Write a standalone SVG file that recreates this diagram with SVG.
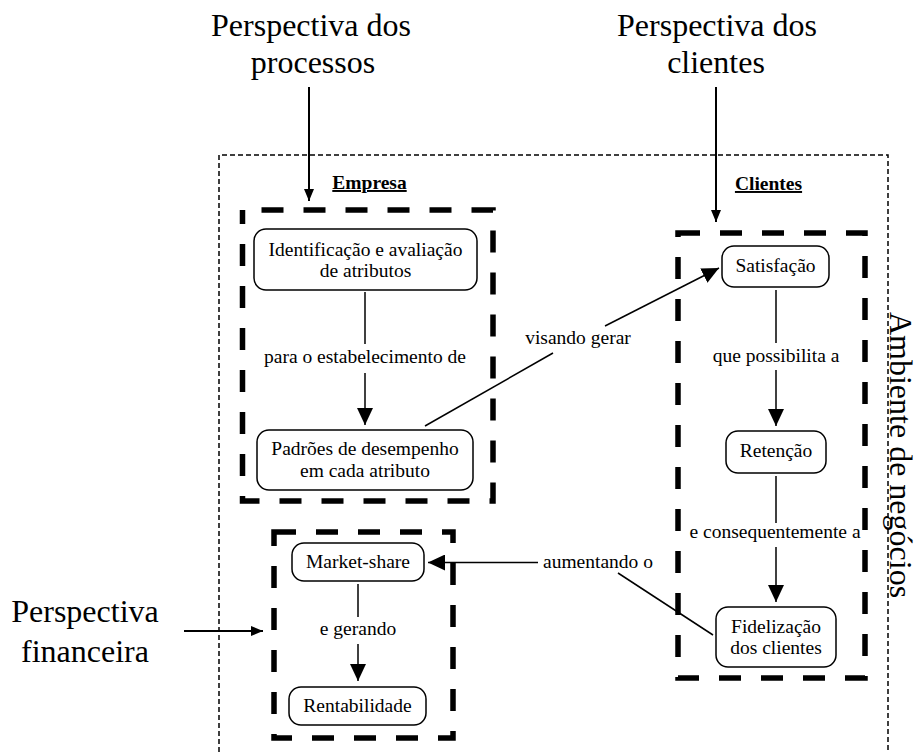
<svg xmlns="http://www.w3.org/2000/svg" width="918" height="752" viewBox="0 0 918 752">
  <defs>
    <marker id="arrow" markerUnits="userSpaceOnUse" markerWidth="18" markerHeight="16" refX="17" refY="8" orient="auto">
      <path d="M0,0 L17,8 L0,16 Z" fill="#000"/>
    </marker>
    <marker id="arrow-small" markerUnits="userSpaceOnUse" markerWidth="13" markerHeight="10" refX="12" refY="5" orient="auto">
      <path d="M0,0 L12,5 L0,10 Z" fill="#000"/>
    </marker>
    <style>
      text { font-family: "Liberation Serif", "Times New Roman", serif; fill: #000; }
      .big { font-size: 32px; text-anchor: middle; }
      .node-text { font-size: 19.5px; text-anchor: middle; }
      .edge-label { font-size: 19.5px; text-anchor: middle; }
      .title { font-size: 19.5px; font-weight: bold; text-anchor: middle; text-decoration: underline; }
      .node { fill: #fff; stroke: #000; stroke-width: 1.5; }
      .frame { fill: none; stroke: #000; stroke-width: 5.5; stroke-dasharray: 22 20; }
      .env { fill: none; stroke: #000; stroke-width: 1.5; stroke-dasharray: 5 3; }
      .edge { fill: none; stroke: #000; stroke-width: 1.5; }
      .persp { fill: none; stroke: #000; stroke-width: 2; }
    </style>
  </defs>

  <rect width="918" height="752" fill="#fff"/>

  <!-- business environment boundary -->
  <g id="ambiente">
    <path class="env" d="M219,760 V155 H888 V760"/>
    <text class="big" transform="translate(890,455) rotate(90)">Ambiente de negócios</text>
  </g>

  <!-- perspective labels -->
  <g id="persp-processos">
    <text class="big" x="311" y="36">Perspectiva dos</text>
    <text class="big" x="313" y="73">processos</text>
  </g>
  <g id="persp-clientes">
    <text class="big" x="717" y="36">Perspectiva dos</text>
    <text class="big" x="716" y="73">clientes</text>
  </g>
  <g id="persp-financeira">
    <text class="big" x="85" y="622">Perspectiva</text>
    <text class="big" x="85" y="662">financeira</text>
  </g>

  <!-- section frames -->
  <g id="empresa">
    <rect class="frame" x="242.5" y="210" width="250.5" height="291" stroke-dashoffset="23"/>
    <text class="title" x="369.5" y="189">Empresa</text>
  </g>
  <g id="clientes">
    <rect class="frame" x="678" y="233" width="187" height="445"/>
    <text class="title" x="768.5" y="190">Clientes</text>
  </g>
  <g id="financeiro">
    <rect class="frame" x="274" y="532" width="179" height="206"/>
  </g>

  <!-- connectors -->
  <g id="connectors">
    <line class="persp" x1="309" y1="87" x2="309" y2="201" marker-end="url(#arrow-small)"/>
    <line class="persp" x1="716" y1="87" x2="716" y2="222" marker-end="url(#arrow-small)"/>
    <line class="persp" x1="184" y1="631" x2="263" y2="631" marker-end="url(#arrow-small)"/>

    <path class="edge" d="M365,292 V344"/>
    <path class="edge" d="M365,373 V425" marker-end="url(#arrow)"/>
    <text class="edge-label" x="365" y="363">para o estabelecimento de</text>

    <path class="edge" d="M425,426 L553,353"/>
    <path class="edge" d="M605,326 L719,268" marker-end="url(#arrow)"/>
    <text class="edge-label" x="578" y="344">visando gerar</text>

    <path class="edge" d="M776,290 V343"/>
    <path class="edge" d="M776,370 V426" marker-end="url(#arrow)"/>
    <text class="edge-label" x="776" y="362">que possibilita a</text>

    <path class="edge" d="M776,476 V523"/>
    <path class="edge" d="M776,547 V602" marker-end="url(#arrow)"/>
    <text class="edge-label" x="775" y="538">e consequentemente a</text>

    <path class="edge" d="M713,635 L618,573"/>
    <path class="edge" d="M538,562.5 H428" marker-end="url(#arrow)"/>
    <text class="edge-label" x="598" y="568">aumentando o</text>

    <path class="edge" d="M358,584 V617"/>
    <path class="edge" d="M358,644 V681" marker-end="url(#arrow)"/>
    <text class="edge-label" x="358" y="635">e gerando</text>
  </g>

  <!-- nodes -->
  <g id="identificacao">
    <rect class="node" x="254" y="229" width="223" height="61" rx="12"/>
    <text class="node-text" x="365.5" y="255.5">Identificação e avaliação</text>
    <text class="node-text" x="365.5" y="277">de atributos</text>
  </g>
  <g id="padroes">
    <rect class="node" x="257" y="430" width="216" height="60" rx="12"/>
    <text class="node-text" x="365" y="455">Padrões de desempenho</text>
    <text class="node-text" x="365" y="477">em cada atributo</text>
  </g>
  <g id="satisfacao">
    <rect class="node" x="722" y="246" width="107" height="41" rx="12"/>
    <text class="node-text" x="775.5" y="272">Satisfação</text>
  </g>
  <g id="retencao">
    <rect class="node" x="726" y="431" width="100" height="42" rx="12"/>
    <text class="node-text" x="776" y="457">Retenção</text>
  </g>
  <g id="fidelizacao">
    <rect class="node" x="716" y="607" width="120" height="60" rx="12"/>
    <text class="node-text" x="776" y="633">Fidelização</text>
    <text class="node-text" x="776" y="654">dos clientes</text>
  </g>
  <g id="market-share">
    <rect class="node" x="292" y="543" width="132" height="38" rx="12"/>
    <text class="node-text" x="358" y="568">Market-share</text>
  </g>
  <g id="rentabilidade">
    <rect class="node" x="289" y="687" width="137" height="38" rx="12"/>
    <text class="node-text" x="357.5" y="712">Rentabilidade</text>
  </g>
</svg>
